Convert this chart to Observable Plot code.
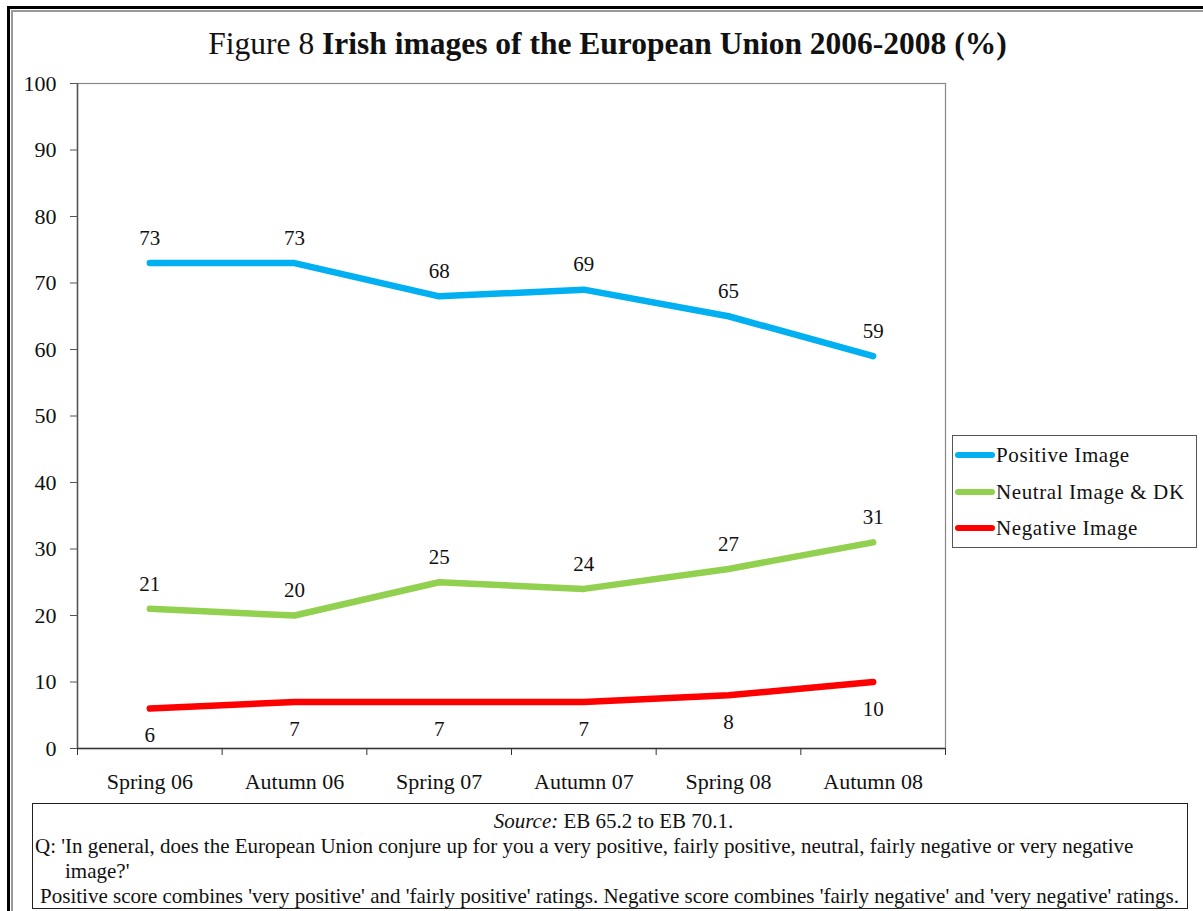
<!DOCTYPE html>
<html>
<head>
<meta charset="utf-8">
<script src="https://cdn.jsdelivr.net/npm/d3@7"></script>
<script src="https://cdn.jsdelivr.net/npm/@observablehq/plot@0.6"></script>
<style>
  html, body { margin: 0; padding: 0; background: #fff; }
  #wrap { position: relative; width: 1203px; height: 911px; overflow: hidden; font-family: "Liberation Serif", "Times New Roman", serif; color: #111; }
  #chart { position: absolute; left: 0; top: 0; }
  .frameA { position: absolute; background: #000; }
  .frameB { position: absolute; background: #999; }
  #title { position: absolute; left: 6px; width: 1203px; top: 26px; text-align: center; font-size: 31.5px; line-height: 36px; white-space: nowrap; }
  #legend { position: absolute; left: 952px; top: 435px; width: 245px; height: 113px; border: 1px solid #555; box-sizing: border-box; background: #fff; }
  .li { position: absolute; left: 2px; height: 24px; font-size: 21px; line-height: 24px; white-space: nowrap; letter-spacing: 0.6px; }
  .li span.sw { display: inline-block; width: 40px; height: 6px; border-radius: 3px; vertical-align: middle; margin-right: 1px; position: relative; top: -2px; }
  #caption { position: absolute; left: 32px; top: 803px; width: 1156px; height: 106px; border: 1.5px solid #222; box-sizing: border-box; font-size: 21px; line-height: 25px; }
  #caption div { position: absolute; white-space: nowrap; }
</style>
</head>
<body>
<div id="wrap">
  <div class="frameA" style="left:7px;top:6px;width:1300px;height:3px"></div>
  <div class="frameA" style="left:7px;top:6px;width:3px;height:1000px"></div>
  <div class="frameB" style="left:11px;top:10px;width:1300px;height:2px"></div>
  <div class="frameB" style="left:11px;top:10px;width:2px;height:1000px"></div>
  <div id="chart"></div>
  <div id="title">Figure 8 <b>Irish images of the European Union 2006-2008 (%)</b></div>
  <div id="legend"></div>
  <div id="caption"></div>
</div>
<script>
const categories = ["Spring 06", "Autumn 06", "Spring 07", "Autumn 07", "Spring 08", "Autumn 08"];
const positive = [73, 73, 68, 69, 65, 59];
const neutral = [21, 20, 25, 24, 27, 31];
const negative = [6, 7, 7, 7, 8, 10];
const seriesNames = ["Positive Image", "Neutral Image & DK", "Negative Image"];
const seriesColors = ["#00B0F0", "#92D050", "#FF0000"];
const yTicks = [0, 10, 20, 30, 40, 50, 60, 70, 80, 90, 100];
const captionLines = [
  "<i>Source:</i> EB 65.2 to EB 70.1.",
  "Q: 'In general, does the European Union conjure up for you a very positive, fairly positive, neutral, fairly negative or very negative",
  "image?'",
  "Positive score combines 'very positive' and 'fairly positive' ratings. Negative score combines 'fairly negative' and 'very negative' ratings."
];

const seriesValues = [positive, neutral, negative];
const data = seriesNames.flatMap((s, k) =>
  seriesValues[k].map((v, i) => ({series: s, category: categories[i], idx: i + 0.5, value: v}))
);
const above = data.filter(d => d.series !== "Negative Image");
const below = data.filter(d => d.series === "Negative Image");

const chart = Plot.plot({
  width: 1203,
  height: 911,
  marginLeft: 77,
  marginTop: 83,
  marginRight: 258,
  marginBottom: 163,
  style: {fontFamily: "Liberation Serif, Times New Roman, serif", fontSize: "21px", background: "transparent", color: "#111"},
  x: {type: "linear", domain: [0, categories.length]},
  y: {domain: [0, 100]},
  color: {domain: seriesNames, range: seriesColors},
  marks: [
    Plot.frame({stroke: "#888", strokeWidth: 1.2}),
    Plot.ruleX([0], {stroke: "#555", strokeWidth: 1.5}),
    Plot.ruleY([0], {stroke: "#333", strokeWidth: 1.5}),
    Plot.axisY({ticks: yTicks, tickSize: 7, tickPadding: 14, label: null, fontSize: 22, stroke: "#555"}),
    Plot.axisX({ticks: d3.range(categories.length + 1), tickSize: 7, tickFormat: () => "", label: null, stroke: "#333"}),
    Plot.axisX({ticks: categories.map((c, i) => i + 0.5), tickSize: 0, tickPadding: 25, tickFormat: d => categories[Math.floor(d)], label: null, fontSize: 22}),
    Plot.line(data, {x: "idx", y: "value", z: "series", stroke: "series", strokeWidth: 6.5, strokeLinecap: "round", strokeLinejoin: "round"}),
    Plot.text(above, {x: "idx", y: "value", text: d => String(d.value), dy: -25, fontSize: 21, fill: "#111"}),
    Plot.text(below, {x: "idx", y: "value", text: d => String(d.value), dy: 27, fontSize: 21, fill: "#111"})
  ]
});
document.getElementById("chart").appendChild(chart);

const legend = document.getElementById("legend");
seriesNames.forEach((s, k) => {
  const el = document.createElement("div");
  el.className = "li";
  el.style.top = (7 + k * 36.5) + "px";
  el.innerHTML = `<span class="sw" style="background:${seriesColors[k]}"></span>${s.replace("&", "&amp;")}`;
  legend.appendChild(el);
});

const cap = document.getElementById("caption");
const capPos = [
  {top: 5, left: 4, width: 1153, align: "center"},
  {top: 30, left: 2},
  {top: 55, left: 32},
  {top: 80, left: 0, width: 1153, align: "center"}
];
captionLines.forEach((t, i) => {
  const el = document.createElement("div");
  const p = capPos[i];
  el.style.top = p.top + "px";
  el.style.left = p.left + "px";
  if (p.width) { el.style.width = p.width + "px"; el.style.textAlign = p.align; }
  el.innerHTML = t;
  cap.appendChild(el);
});
</script>
</body>
</html>
